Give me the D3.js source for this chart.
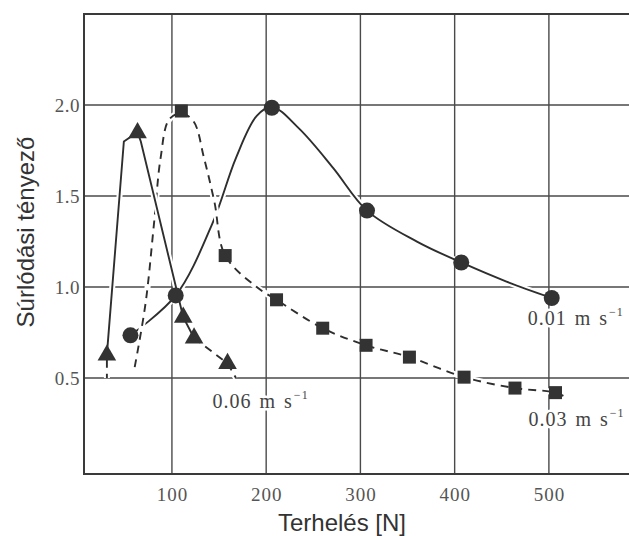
<!DOCTYPE html>
<html><head><meta charset="utf-8">
<script src="https://cdn.jsdelivr.net/npm/d3@7"></script>
<style>html,body{margin:0;padding:0;background:#fff;}svg{display:block;}</style>
</head><body>
<script>
// ---- data ----
const xTicks = [100, 200, 300, 400, 500];
const yTicks = [0.5, 1.0, 1.5, 2.0];
const xTickLabels = ["100", "200", "300", "400", "500"];
const yTickLabels = ["0.5", "1.0", "1.5", "2.0"];
const xTitle = "Terhelés [N]";
const yTitle = "Súrlódási tényező";

// 0.01 m/s – circles, solid curve
const loadCircles = [56, 104, 206, 307, 407, 503];
const fricCircles = [0.735, 0.954, 1.985, 1.42, 1.135, 0.94];
const curve001 = [[56,0.735],[104,0.954],[143,1.35],[168,1.71],[190,1.94],[206,1.99],[235,1.87],[271,1.655],[307,1.42],[360,1.25],[407,1.135],[455,1.03],[503,0.94]];

// 0.03 m/s – squares, dashed curve
const loadSquares = [110, 156.5, 211, 260, 306, 352, 410, 464, 507];
const fricSquares = [1.967, 1.173, 0.93, 0.774, 0.68, 0.615, 0.505, 0.445, 0.42];
const curve003 = [[60.5,0.56],[72,0.91],[81,1.35],[88,1.71],[97,1.92],[110,1.955],[123,1.91],[134,1.71],[145,1.47],[156.5,1.173],[190,1.0],[211,0.93],[260,0.774],[306,0.68],[352,0.615],[410,0.505],[464,0.445],[507,0.42],[520,0.39]];

// 0.06 m/s – triangles, solid then dashed
const loadTriangles = [31, 63.5, 112, 123.5, 159];
const fricTriangles = [0.626, 1.847, 0.834, 0.72, 0.58];
const curve006Solid = [[31,0.63],[49,1.80],[63.5,1.85],[67,1.80],[112,0.834],[123.5,0.72]];
const curve006Dash = [[123.5,0.72],[159,0.58],[168,0.5]];
const curve006Tail = [[31,0.6],[31,0.5]];

const seriesLabels = ["0.01 m s", "0.03 m s", "0.06 m s"];
const seriesSup = "−1";

// ---- drawing ----
const W = 629, H = 536;
const svg = d3.select("body").append("svg").attr("width", W).attr("height", H);
const mLeft = 84, mRight = 629, mTop = 14, mBottom = 474;
const x = d3.scaleLinear().domain([6.7, 585]).range([mLeft, mRight]);
const y = d3.scaleLinear().domain([-0.027, 2.5]).range([mBottom, mTop]);

const ink = "#2e2e2e";
// grid
const g = svg.append("g");
g.selectAll("line.v").data(xTicks).join("line")
  .attr("x1", d => x(d)).attr("x2", d => x(d)).attr("y1", mTop).attr("y2", mBottom)
  .attr("stroke", "#4a4a4a").attr("stroke-width", 1.4);
g.selectAll("line.h").data(yTicks).join("line")
  .attr("x1", mLeft).attr("x2", mRight).attr("y1", d => y(d)).attr("y2", d => y(d))
  .attr("stroke", "#4a4a4a").attr("stroke-width", 1.4);
// frame
svg.append("path").attr("d", `M${mRight},${mTop}H${mLeft}V${mBottom}H${mRight}`)
  .attr("fill", "none").attr("stroke", "#3a3a3a").attr("stroke-width", 2);

// axes tick labels via d3 axes
const xAxis = d3.axisBottom(x).tickValues(xTicks).tickFormat((d, i) => xTickLabels[i]).tickSize(0).tickPadding(14);
const xa = svg.append("g").attr("transform", `translate(0,${mBottom})`).call(xAxis);
xa.select(".domain").remove();
xa.selectAll("text").attr("font-family", "Liberation Serif").attr("font-size", 19)
  .attr("fill", "#555").attr("letter-spacing", 1);
const yAxis = d3.axisLeft(y).tickValues(yTicks).tickFormat((d, i) => yTickLabels[i]).tickSize(0).tickPadding(4);
const ya = svg.append("g").attr("transform", `translate(${mLeft},0)`).call(yAxis);
ya.select(".domain").remove();
ya.selectAll("text").attr("font-family", "Liberation Serif").attr("font-size", 19)
  .attr("fill", "#555").attr("letter-spacing", 0.5);

// titles
svg.append("text").attr("x", 342).attr("y", 531).attr("text-anchor", "middle")
  .attr("font-family", "Liberation Sans").attr("font-size", 24).attr("fill", "#333").text(xTitle);
svg.append("text").attr("transform", "translate(34,232) rotate(-90)").attr("text-anchor", "middle")
  .attr("font-family", "Liberation Sans").attr("font-size", 24).attr("fill", "#333").text(yTitle);

// curves
const lineC = d3.line().x(d => x(d[0])).y(d => y(d[1])).curve(d3.curveCatmullRom.alpha(0.5));
const lineL = d3.line().x(d => x(d[0])).y(d => y(d[1]));
function drawPath(data, gen, dashed) {
  svg.append("path").attr("d", gen(data)).attr("fill", "none").attr("stroke", "#fff").attr("stroke-width", 6);
  svg.append("path").attr("d", gen(data)).attr("fill", "none").attr("stroke", ink).attr("stroke-width", 1.9)
    .attr("stroke-dasharray", dashed ? "8,6" : null);
}
drawPath(curve001, lineC, false);
drawPath(curve003, lineC, true);
drawPath(curve006Solid, lineL, false);
drawPath(curve006Dash, lineL, true);
drawPath(curve006Tail, lineL, true);

// markers
svg.append("g").selectAll("circle").data(loadCircles).join("circle")
  .attr("cx", d => x(d)).attr("cy", (d, i) => y(fricCircles[i])).attr("r", 8).attr("fill", "#333");
svg.append("g").selectAll("rect").data(loadSquares).join("rect")
  .attr("x", d => x(d) - 6.5).attr("y", (d, i) => y(fricSquares[i]) - 6.5)
  .attr("width", 13).attr("height", 13).attr("fill", "#333");
svg.append("g").selectAll("path").data(loadTriangles).join("path")
  .attr("transform", (d, i) => `translate(${x(d)},${y(fricTriangles[i])})`)
  .attr("d", d3.symbol(d3.symbolTriangle, 150)).attr("fill", "#333");

// series labels placed relative to each series' last marker
const lastPts = [
  [loadCircles[loadCircles.length - 1], fricCircles[fricCircles.length - 1], -24, 27],
  [loadSquares[loadSquares.length - 1], fricSquares[fricSquares.length - 1], -27, 33],
  [loadTriangles[loadTriangles.length - 1], fricTriangles[fricTriangles.length - 1], -15, 44]
];
lastPts.forEach((p, i) => {
  const t = svg.append("text").attr("x", x(p[0]) + p[2]).attr("y", y(p[1]) + p[3])
    .attr("font-family", "Liberation Serif").attr("font-size", 20).attr("fill", "#444")
    .attr("stroke", "#fff").attr("stroke-width", 5).attr("paint-order", "stroke")
    .attr("letter-spacing", 1).attr("word-spacing", 2);
  t.append("tspan").text(seriesLabels[i]);
  t.append("tspan").attr("dy", -9).attr("dx", 1).attr("font-size", 12).text(seriesSup);
});
</script>
</body></html>
